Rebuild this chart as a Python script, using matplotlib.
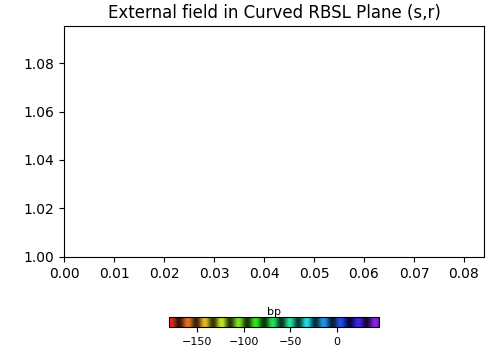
import numpy as np
import matplotlib
matplotlib.use("Agg")
import matplotlib.pyplot as plt
from matplotlib import colors, cm

# axis ranges
x_limits = [0.0, 0.084]
y_limits = [1.0, 1.0953]
x_ticks = [0.00, 0.01, 0.02, 0.03, 0.04, 0.05, 0.06, 0.07, 0.08]
y_ticks = [1.00, 1.02, 1.04, 1.06, 1.08]

# colorbar range and ticks
cbar_range = [-180, 45]
cbar_ticks = [-150, -100, -50, 0]
cbar_label = "bp"
title = "External field in Curved RBSL Plane (s,r)"


def banded_hue_cmap(n=512, hue_end=0.77, bands=12.3):
    """Hue ramp red -> violet with periodic dark bands."""
    t = np.linspace(0, 1, n)
    hue = t * hue_end
    val = 0.55 + 0.33 * np.cos(2 * np.pi * (t * bands - 0.08))
    sat = np.full(n, 0.85)
    rgb = colors.hsv_to_rgb(np.stack([hue, sat, val], axis=1))
    return colors.ListedColormap(rgb)


fig = plt.figure(figsize=(5.0, 3.51), dpi=100)
ax = fig.add_axes([0.128, 0.268, 0.84, 0.658])
ax.set_xlim(x_limits)
ax.set_ylim(y_limits)
ax.set_xticks(x_ticks)
ax.set_yticks(y_ticks)
ax.set_title(title, fontsize=12)

cax = fig.add_axes([0.338, 0.068, 0.42, 0.0285])
sm = cm.ScalarMappable(norm=colors.Normalize(*cbar_range), cmap=banded_hue_cmap())
cb = fig.colorbar(sm, cax=cax, orientation="horizontal")
cb.set_ticks(cbar_ticks)
cb.ax.tick_params(labelsize=8)
cb.ax.set_title(cbar_label, fontsize=8, pad=1)

fig.savefig("out.png", dpi=100)
